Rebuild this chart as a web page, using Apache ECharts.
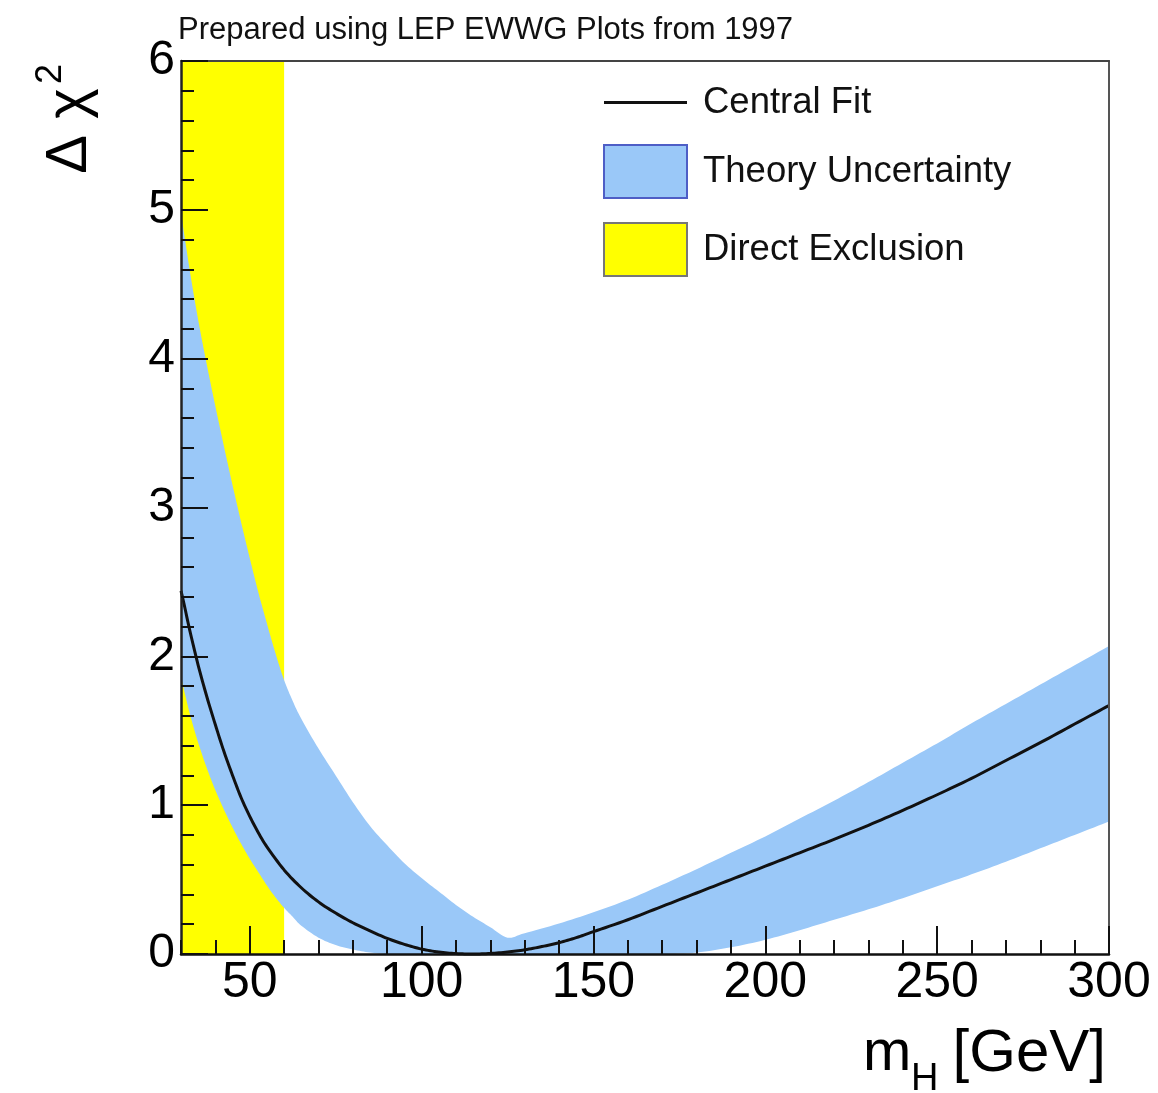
<!DOCTYPE html>
<html>
<head>
<meta charset="utf-8">
<script src="https://cdn.jsdelivr.net/npm/echarts@6.0.0/dist/echarts.min.js"></script>
<style>
html,body{margin:0;padding:0;background:#fff;}
#chart{width:1158px;height:1093px;}
</style>
</head>
<body>
<div id="chart"></div>
<script>
// ---- data ----
var xMajorTicks = [50, 100, 150, 200, 250, 300];

var exclusionX = [30, 60];
var exclusionY = [6, 6];

var bandX = [30, 32.5, 35, 37.5, 40, 42.5, 45, 47.5, 50, 52.5, 55, 57.5, 60, 62.5, 65, 70, 75, 80, 85, 90, 95, 100, 105, 110, 115, 120, 125, 130, 140, 150, 160, 170, 180, 190, 200, 210, 220, 230, 240, 250, 260, 270, 280, 290, 300];
var bandUpper = [4.98, 4.60, 4.26, 3.96, 3.68, 3.41, 3.15, 2.90, 2.66, 2.43, 2.22, 2.02, 1.84, 1.70, 1.58, 1.38, 1.20, 1.02, 0.86, 0.73, 0.61, 0.51, 0.42, 0.33, 0.25, 0.18, 0.11, 0.14, 0.205, 0.28, 0.365, 0.465, 0.57, 0.68, 0.79, 0.91, 1.03, 1.155, 1.285, 1.415, 1.55, 1.68, 1.81, 1.94, 2.07];
var bandLower = [1.86, 1.62, 1.42, 1.25, 1.10, 0.97, 0.85, 0.74, 0.64, 0.55, 0.46, 0.38, 0.31, 0.25, 0.19, 0.11, 0.06, 0.03, 0.01, 0, 0, 0, 0, 0, 0, 0, 0, 0, 0, 0, 0, 0, 0.01, 0.045, 0.095, 0.16, 0.23, 0.30, 0.375, 0.455, 0.535, 0.62, 0.71, 0.80, 0.89];

var fitX = [30, 31, 32.5, 35, 37.5, 40, 42.5, 45, 47.5, 50, 52.5, 55, 60, 65, 70, 75, 80, 85, 90, 95, 100, 105, 110, 115, 120, 125, 130, 135, 140, 145, 150, 160, 170, 180, 190, 200, 210, 220, 230, 240, 250, 260, 270, 280, 290, 300];
var fitY = [2.44, 2.34, 2.18, 1.94, 1.73, 1.54, 1.36, 1.20, 1.05, 0.925, 0.815, 0.72, 0.565, 0.445, 0.35, 0.275, 0.21, 0.155, 0.105, 0.065, 0.033, 0.013, 0.003, 0, 0.004, 0.013, 0.028, 0.05, 0.076, 0.11, 0.15, 0.23, 0.32, 0.41, 0.50, 0.59, 0.68, 0.77, 0.865, 0.965, 1.07, 1.18, 1.30, 1.42, 1.545, 1.67];

// ---- build series data ----
function zip(xs, ys) { return xs.map(function (x, i) { return [x, ys[i]]; }); }
var bandData = bandX.map(function (x, i) { return [x, bandUpper[i], bandLower[i]]; });

var FONT = 'Liberation Sans, Arial, Helvetica, sans-serif';
var BLUE = '#9ac8f8';

var chart = echarts.init(document.getElementById('chart'), null, { renderer: 'canvas' });

var tickStyle = { color: '#111', width: 2 };

// Catmull-Rom smoothing of an already-projected (pixel) outline, for drawing only
function smoothPixels(p, steps) {
  var out = [];
  var n = p.length;
  for (var i = 0; i < n - 1; i++) {
    var p0 = p[i > 0 ? i - 1 : i], p1 = p[i], p2 = p[i + 1], p3 = p[i + 2 < n ? i + 2 : i + 1];
    for (var s = 0; s < steps; s++) {
      var t = s / steps, t2 = t * t, t3 = t2 * t;
      var f = function (a, b, c, d) {
        return 0.5 * ((2 * b) + (-a + c) * t + (2 * a - 5 * b + 4 * c - d) * t2 + (-a + 3 * b - 3 * c + d) * t3);
      };
      out.push([f(p0[0], p1[0], p2[0], p3[0]), f(p0[1], p1[1], p2[1], p3[1])]);
    }
  }
  out.push(p[n - 1]);
  return out;
}

function renderBand(params, api) {
  if (params.dataIndex !== 0) return null;
  var up = [], lo = [];
  for (var i = 0; i < bandX.length; i++) {
    up.push(api.coord([bandX[i], bandUpper[i]]));
    lo.push(api.coord([bandX[i], bandLower[i]]));
  }
  var upS = smoothPixels(up, 8);
  var loS = smoothPixels(lo, 8).reverse();
  var bottomY = api.coord([30, 0])[1];
  loS = loS.map(function (q) { return [q[0], Math.min(q[1], bottomY)]; });
  return { type: 'polygon', shape: { points: upS.concat(loS) }, style: { fill: BLUE, stroke: null } };
}

function renderFit(params, api) {
  if (params.dataIndex !== 0) return null;
  var pts = [];
  for (var i = 0; i < fitX.length; i++) pts.push(api.coord([fitX[i], fitY[i]]));
  var bottomY = api.coord([30, 0])[1];
  var s = smoothPixels(pts, 8).map(function (q) { return [q[0], Math.min(q[1], bottomY)]; });
  return { type: 'polyline', shape: { points: s }, style: { stroke: '#111', lineWidth: 3, fill: null, lineJoin: 'round' } };
}

chart.setOption({
  animation: false,
  backgroundColor: '#fff',
  title: {
    text: 'Prepared using LEP EWWG Plots from 1997',
    left: 178, top: 15, padding: 0,
    textStyle: { fontFamily: FONT, fontSize: 31, fontWeight: 'normal', color: '#111' }
  },
  grid: { left: 181, right: 49, top: 61, bottom: 139, containLabel: false },
  legend: {
    left: 603, top: 84, orient: 'vertical', padding: 0,
    itemWidth: 83, itemHeight: 53, itemGap: 23,
    selectedMode: false, symbolKeepAspect: true,
    textStyle: { fontFamily: FONT, fontSize: 36.5, color: '#111', padding: [0, 0, 0, 11] },
    data: [
      { name: 'Central Fit', icon: 'path://M0,0 L83,0 L83,3 L0,3 Z', itemStyle: { color: '#111', borderWidth: 0 } },
      { name: 'Theory Uncertainty', icon: 'rect', itemStyle: { color: BLUE, borderColor: '#4e5ec6', borderWidth: 2 } },
      { name: 'Direct Exclusion', icon: 'rect', itemStyle: { color: '#ffff00', borderColor: '#777', borderWidth: 2 } }
    ]
  },
  xAxis: [
    {
      type: 'value', min: 30, max: 300, interval: 10, position: 'bottom', z: 10,
      axisLine: { show: true, onZero: false, lineStyle: { color: '#111', width: 2.5 } },
      axisTick: { show: true, inside: true, length: 14, lineStyle: tickStyle },
      axisLabel: { show: false },
      splitLine: { show: false }
    },
    {
      type: 'value', min: 30, max: 300, position: 'bottom', offset: 0, z: 10,
      axisLine: { show: false, onZero: false },
      axisTick: { show: true, inside: true, length: 28, customValues: xMajorTicks, lineStyle: tickStyle },
      axisLabel: { show: true, customValues: xMajorTicks, fontFamily: FONT, fontSize: 50, color: '#000', margin: 4 },
      splitLine: { show: false }
    },
    {
      type: 'value', min: 30, max: 300, position: 'top', z: 10,
      axisLine: { show: true, onZero: false, lineStyle: { color: '#444', width: 2 } },
      axisTick: { show: false }, axisLabel: { show: false }, splitLine: { show: false }
    }
  ],
  yAxis: [
    {
      type: 'value', min: 0, max: 6, interval: 1, position: 'left', z: 10,
      axisLine: { show: true, onZero: false, lineStyle: { color: '#222', width: 2.5 } },
      axisTick: { show: true, inside: true, length: 27, lineStyle: tickStyle },
      minorTick: { show: true, splitNumber: 5, length: 13, lineStyle: tickStyle },
      axisLabel: { fontFamily: FONT, fontSize: 48, color: '#000', margin: 6 },
      splitLine: { show: false }, minorSplitLine: { show: false }
    },
    {
      type: 'value', min: 0, max: 6, position: 'right', z: 10,
      axisLine: { show: true, onZero: false, lineStyle: { color: '#555', width: 2 } },
      axisTick: { show: false }, axisLabel: { show: false }, splitLine: { show: false }
    }
  ],
  series: [
    {
      name: 'Direct Exclusion', type: 'line', xAxisIndex: 0, yAxisIndex: 0,
      data: zip(exclusionX, exclusionY), symbol: 'none', silent: true,
      lineStyle: { width: 0, color: '#ffff00' }, itemStyle: { color: '#ffff00' },
      areaStyle: { color: '#ffff00', opacity: 1 }, z: 1
    },
    {
      name: 'Theory Uncertainty', type: 'custom', xAxisIndex: 0, yAxisIndex: 0,
      data: bandData, encode: { x: 0, y: [1, 2] }, silent: true,
      itemStyle: { color: BLUE },
      renderItem: renderBand, z: 2
    },
    {
      name: 'Central Fit', type: 'custom', xAxisIndex: 0, yAxisIndex: 0,
      data: zip(fitX, fitY), encode: { x: 0, y: 1 }, silent: true,
      itemStyle: { color: '#111' },
      renderItem: renderFit, z: 3
    }
  ],
  graphic: [
    { type: 'text', x: 70, y: 131, rotation: Math.PI / 2, z: 20,
      style: { text: 'Δ χ', fontFamily: FONT, fontSize: 58, fill: '#000', align: 'center', verticalAlign: 'middle' } },
    { type: 'text', x: 51, y: 74, rotation: Math.PI / 2, z: 20,
      style: { text: '2', fontFamily: FONT, fontSize: 36, fill: '#000', align: 'center', verticalAlign: 'middle' } },
    { type: 'text', x: 863, y: 1054, z: 20,
      style: { text: 'm', fontFamily: FONT, fontSize: 58, fill: '#000', align: 'left', verticalAlign: 'middle' } },
    { type: 'text', x: 911, y: 1080, z: 20,
      style: { text: 'H', fontFamily: FONT, fontSize: 38, fill: '#000', align: 'left', verticalAlign: 'middle' } },
    { type: 'text', x: 1106, y: 1054, z: 20,
      style: { text: '[GeV]', fontFamily: FONT, fontSize: 60, fill: '#000', align: 'right', verticalAlign: 'middle' } }
  ]
});
</script>
</body>
</html>
